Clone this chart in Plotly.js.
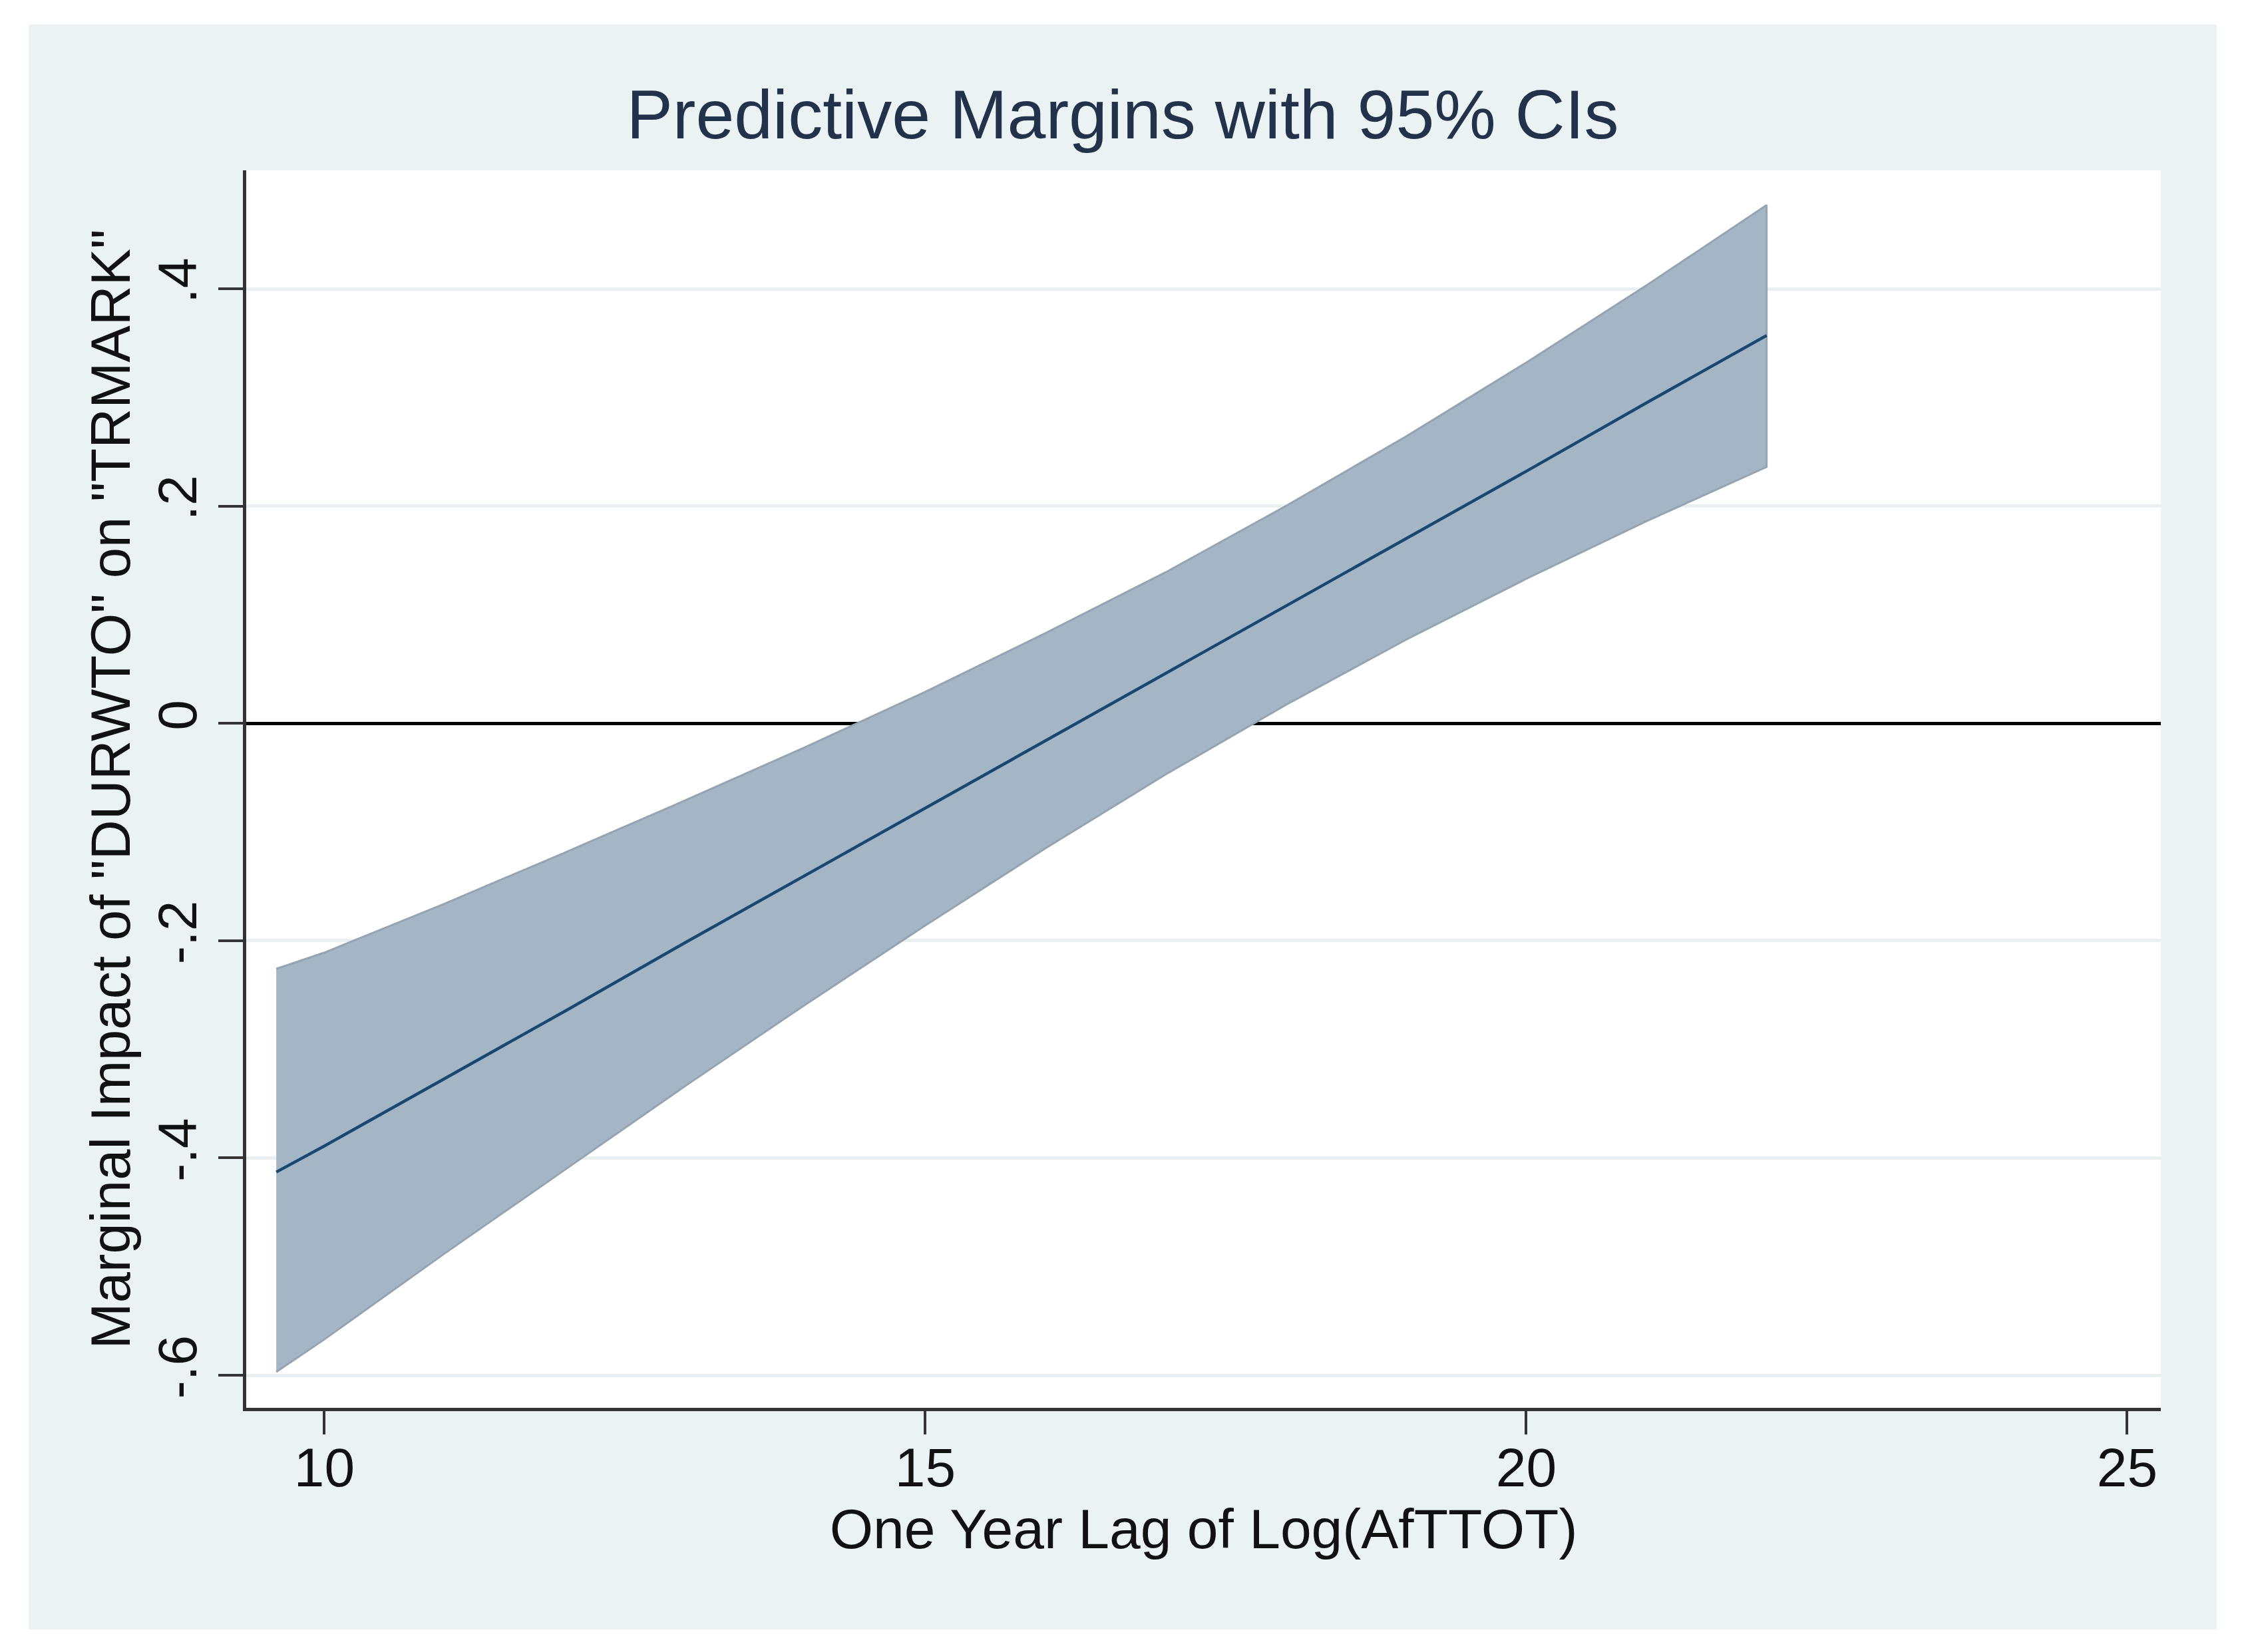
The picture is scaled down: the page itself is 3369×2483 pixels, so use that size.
<!DOCTYPE html>
<html>
<head>
<meta charset="utf-8">
<script src="https://cdn.plot.ly/plotly-3.0.1.min.js"></script>
<style>
  html, body { margin: 0; padding: 0; background: #ffffff; width: 3369px; height: 2483px; overflow: hidden; }
  #chart { position: absolute; left: 43px; top: 37px; width: 3288px; height: 2412px; }
</style>
</head>
<body>
<div id="chart"></div>
<script>
// Values
const xValues = [9.6, 10, 11, 12, 13, 14, 15, 16, 17, 18, 19, 20, 21, 22];
const margins = [-0.413, -0.389, -0.327, -0.265, -0.202, -0.140, -0.078, -0.016, 0.046, 0.108, 0.170, 0.232, 0.295, 0.357];
const ciUpper = [-0.226, -0.211, -0.166, -0.119, -0.071, -0.022, 0.029, 0.083, 0.139, 0.200, 0.264, 0.332, 0.403, 0.477];
const ciLower = [-0.597, -0.567, -0.488, -0.411, -0.334, -0.259, -0.186, -0.115, -0.047, 0.017, 0.077, 0.133, 0.186, 0.236];

const xTickVals = [10, 15, 20, 25];
const xTickText = ["10", "15", "20", "25"];
const yTickVals = [-0.6, -0.4, -0.2, 0, 0.2, 0.4];
const yTickText = ["-.6", "-.4", "-.2", "0", ".2", ".4"];

const bandX = xValues.concat(xValues.slice().reverse());
const bandY = ciUpper.concat(ciLower.slice().reverse());

const FONT = "Liberation Sans, Arial, Helvetica, sans-serif";

const traces = [
  {
    type: "scatter", mode: "lines",
    x: bandX, y: bandY,
    fill: "toself",
    fillcolor: "#A4B5C5",
    line: { color: "#95A4B2", width: 3 },
    hoverinfo: "skip", showlegend: false
  },
  {
    type: "scatter", mode: "lines",
    x: xValues, y: margins,
    line: { color: "#1A476F", width: 4.5 },
    showlegend: false
  }
];

const layout = {
  width: 3288, height: 2412,
  paper_bgcolor: "#EAF2F3",
  plot_bgcolor: "#FFFFFF",
  margin: { l: 327, r: 84, t: 219, b: 333, pad: 0 },
  font: { family: FONT, color: "#111111", size: 82 },
  title: {
    text: "Predictive Margins with 95% CIs",
    font: { family: FONT, size: 104, color: "#22324A" },
    x: 0.5, xref: "container", xanchor: "center",
    y: 0.944, yref: "container", yanchor: "middle"
  },
  xaxis: {
    range: [9.35, 25.28],
    tickmode: "array", tickvals: xTickVals, ticktext: xTickText,
    ticks: "outside", ticklen: 35, tickwidth: 4, tickcolor: "#333333",
    ticklabelstandoff: -20,
    showline: true, linecolor: "#333333", linewidth: 5,
    showgrid: false, zeroline: false,
    tickfont: { family: FONT, size: 82, color: "#111111" },
    title: { text: "One Year Lag of Log(AfTTOT)", font: { family: FONT, size: 84, color: "#111111" }, standoff: 10 },
    automargin: false, fixedrange: true
  },
  yaxis: {
    range: [-0.630, 0.509],
    tickmode: "array", tickvals: yTickVals, ticktext: yTickText,
    tickangle: -90,
    ticks: "outside", ticklen: 37, tickwidth: 4, tickcolor: "#333333",
    showline: true, linecolor: "#333333", linewidth: 5,
    showgrid: true, gridcolor: "#EAF0F2", gridwidth: 5,
    zeroline: true, zerolinecolor: "#000000", zerolinewidth: 5,
    tickfont: { family: FONT, size: 82, color: "#111111" },
    title: { text: "Marginal Impact of \"DURWTO\" on \"TRMARK\"", font: { family: FONT, size: 83, color: "#111111" }, standoff: 0 },
    automargin: false, fixedrange: true
  },
  showlegend: false
};

Plotly.newPlot("chart", traces, layout, { displayModeBar: false, staticPlot: true });
</script>
</body>
</html>
